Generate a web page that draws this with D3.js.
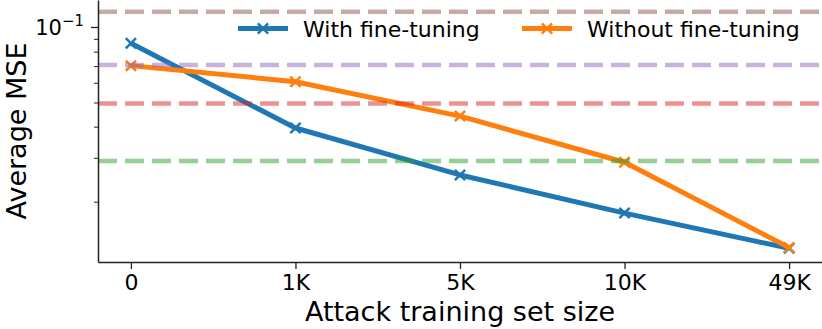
<!DOCTYPE html>
<html>
<head>
<meta charset="utf-8">
<script src="https://cdn.jsdelivr.net/npm/d3@7"></script>
<style>
  body { margin: 0; background: #fff; }
  svg { display: block; font-family: "DejaVu Sans", sans-serif; }
</style>
</head>
<body>
<div id="chart"></div>
<script>
// data
const sizes = ['0', '1K', '5K', '10K', '49K']
const withFineTuning = [0.0864, 0.0395, 0.0256, 0.0180, 0.0130]
const withoutFineTuning = [0.0703, 0.0606, 0.0441, 0.0288, 0.0131]
const baselines = [0.1157, 0.0707, 0.0496, 0.0291]
const baselineColors = ['#8c564b', '#9467bd', '#d62728', '#2ca02c']
const minorTicks = [0.02, 0.03, 0.04, 0.05, 0.06, 0.07, 0.08, 0.09]
const yDomain = [0.011456, 0.12891]

const W = 822, H = 329
const margin = { top: 0, right: 0, bottom: 67, left: 98 }

const svg = d3.select('#chart').append('svg')
    .attr('width', W)
    .attr('height', H)

const x = d3.scaleLinear()
    .domain([-0.2, sizes.length - 1 + 0.2])
    .range([margin.left, W - margin.right])

const y = d3.scaleLog()
    .domain(yDomain)
    .range([H - margin.bottom, margin.top])

const series = [
    { name: 'With fine-tuning', color: '#1f77b4', values: withFineTuning },
    { name: 'Without fine-tuning', color: '#ff7f0e', values: withoutFineTuning }
]

const line = d3.line()
    .x((d, i) => x(i))
    .y(d => y(d))

// data lines
series.forEach(s => {
    svg.append('path')
        .datum(s.values)
        .attr('fill', 'none')
        .attr('stroke', s.color)
        .attr('stroke-width', 5)
        .attr('stroke-linejoin', 'round')
        .attr('d', line)

    svg.append('g').selectAll('path')
        .data(s.values)
        .join('path')
        .attr('transform', (d, i) => `translate(${x(i)},${y(d)})`)
        .attr('d', d3.symbol(d3.symbolX, 70))
        .attr('fill', 'none')
        .attr('stroke', s.color)
        .attr('stroke-width', 2.5)
})

// dashed reference lines on top
svg.append('g').selectAll('line')
    .data(baselines)
    .join('line')
    .attr('x1', margin.left)
    .attr('x2', W)
    .attr('y1', d => y(d))
    .attr('y2', d => y(d))
    .attr('stroke', (d, i) => baselineColors[i])
    .attr('stroke-opacity', 0.5)
    .attr('stroke-width', 4.5)
    .attr('stroke-dasharray', '19 8')

// axes
const xAxis = svg.append('g')
    .attr('transform', `translate(0,${H - margin.bottom})`)
    .call(d3.axisBottom(x).tickValues(d3.range(sizes.length))
        .tickFormat(i => sizes[i]).tickSizeInner(7).tickSizeOuter(0).tickPadding(5.5))
xAxis.select('.domain').attr('stroke', '#222').attr('stroke-width', 1.5)
xAxis.selectAll('.tick line').attr('stroke', '#222').attr('stroke-width', 1.3)
xAxis.selectAll('.tick text').attr('font-size', 22).attr('fill', '#000')
    .attr('font-family', 'DejaVu Sans')

const yAxis = svg.append('g')
    .attr('transform', `translate(${margin.left},0)`)
    .call(d3.axisLeft(y).tickValues(minorTicks).tickFormat('').tickSizeInner(4).tickSizeOuter(0))
yAxis.select('.domain').attr('stroke', '#222').attr('stroke-width', 1.5)
yAxis.selectAll('.tick line').attr('stroke', '#222').attr('stroke-width', 1)

const major = svg.append('g')
    .attr('transform', `translate(${margin.left},${y(0.1)})`)
major.append('line')
    .attr('x1', -7).attr('x2', 0)
    .attr('stroke', '#222').attr('stroke-width', 1.3)
const majorLabel = major.append('text')
    .attr('x', -14)
    .attr('y', 7.5)
    .attr('text-anchor', 'end')
    .attr('font-size', 21)
majorLabel.append('tspan').text('10')
majorLabel.append('tspan').attr('font-size', 15).attr('dy', -8.5).text('\u22121')

// axis titles
svg.append('text')
    .attr('x', (margin.left + W) / 2)
    .attr('y', 321)
    .attr('text-anchor', 'middle')
    .attr('font-size', 27)
    .text('Attack training set size')

svg.append('text')
    .attr('transform', `translate(26,${(H - margin.bottom) / 2}) rotate(-90)`)
    .attr('text-anchor', 'middle')
    .attr('font-size', 27)
    .text('Average MSE')

// legend
const legendX = [238, 522]
series.forEach((s, i) => {
    const g = svg.append('g').attr('transform', `translate(${legendX[i]},28.5)`)
    g.append('line')
        .attr('x1', 0).attr('x2', 50)
        .attr('stroke', s.color).attr('stroke-width', 5)
    g.append('path')
        .attr('transform', 'translate(25,0)')
        .attr('d', d3.symbol(d3.symbolX, 70))
        .attr('fill', 'none')
        .attr('stroke', s.color)
        .attr('stroke-width', 2.5)
    g.append('text')
        .attr('x', 65)
        .attr('y', 8)
        .attr('font-size', 22)
        .text(s.name)
})
</script>
</body>
</html>
